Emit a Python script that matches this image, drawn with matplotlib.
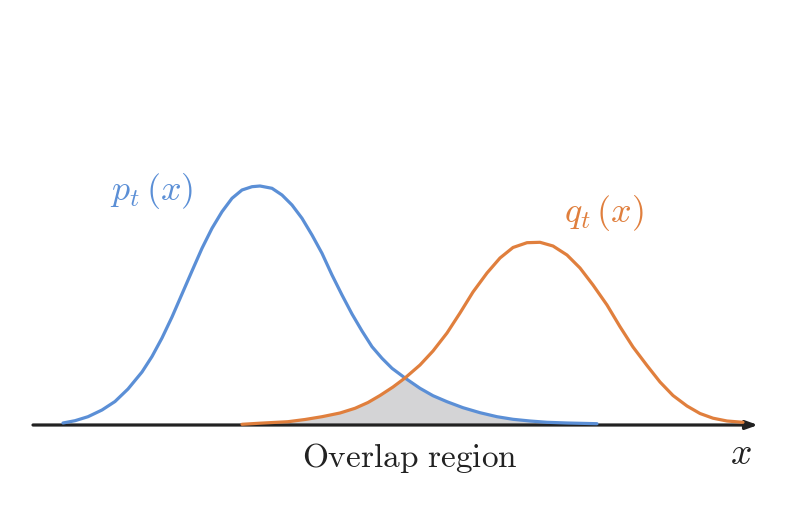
import numpy as np
import matplotlib
matplotlib.use('Agg')
import matplotlib.pyplot as plt

plt.rcParams['mathtext.fontset'] = 'cm'

# curva p_t(x): posição horizontal e altura acima do eixo
p_x = [63, 75, 88, 102, 115, 128, 142, 152, 162, 172, 182, 192, 202, 212, 222,
       232, 242, 252, 260, 272, 282, 292, 302, 312, 322, 332, 342, 352, 362, 372,
       382, 392, 405, 420, 433, 447, 463, 480, 497, 513, 530, 547, 567, 580, 597]
p_y = [2, 4.3, 8.3, 15, 23.5, 36, 53, 68.5, 87, 108, 131, 154, 176.7, 196.7, 213.3,
       226.7, 235, 238.3, 239, 236.7, 230, 220, 206.7, 190, 171.7, 150, 130, 111, 94, 78.3,
       66.7, 56.7, 47, 36.7, 29.3, 23.3, 17.3, 12.3, 8.3, 5.7, 4, 2.7, 2, 1.7, 1.3]

# curva q_t(x)
q_x = [242, 260, 288, 305, 322, 340, 355, 368, 380, 393, 405, 420, 433, 447, 460,
       473, 487, 500, 513, 527, 540, 553, 567, 580, 593, 607, 620, 633, 647, 660,
       673, 687, 700, 713, 727, 743]
q_y = [0.7, 1.8, 3.3, 5.5, 8.3, 12, 16.7, 22.5, 29.5, 38, 47, 60, 74, 92, 112,
       133, 152, 167, 177.5, 182.3, 182.7, 179, 170, 157, 140, 120, 98.3, 78, 59.5, 43,
       29.5, 19, 11.5, 6.8, 4, 2.7]

cross_x = 405  # ponto onde as curvas se cruzam

blue = '#5b8fd6'
orange = '#e07f3d'
dark = '#222222'

p_x, p_y = np.array(p_x), np.array(p_y)
q_x, q_y = np.array(q_x), np.array(q_y)

fig = plt.figure(figsize=(7.97, 5.32), dpi=100)
ax = fig.add_axes([0, 0, 1, 1])
ax.set_xlim(0, 797)
ax.set_ylim(-107, 425)
ax.axis('off')

# região de sobreposição: abaixo de q até o cruzamento, abaixo de p depois
ov_x = np.concatenate([q_x[q_x <= cross_x], p_x[p_x > cross_x]])
ov_y = np.concatenate([q_y[q_x <= cross_x], p_y[p_x > cross_x]])
ax.fill_between(ov_x, 0, ov_y, color='#d4d4d6', lw=0, zorder=1)

ax.plot(p_x, p_y, color=blue, lw=2.3, solid_capstyle='round', solid_joinstyle='round', zorder=3)
ax.plot(q_x, q_y, color=orange, lw=2.3, solid_capstyle='round', solid_joinstyle='round', zorder=3)

# eixo x com seta
ax.annotate('', xy=(758, 0), xytext=(33, 0),
            arrowprops=dict(arrowstyle='-|>,head_length=0.7,head_width=0.25',
                            color=dark, lw=2.3, shrinkA=0, shrinkB=0),
            zorder=2)

ax.text(152, 225, r'$p_t\,(x)$', color=blue, fontsize=26, ha='center', va='baseline')
ax.text(604, 203, r'$q_t\,(x)$', color=orange, fontsize=26, ha='center', va='baseline')
ax.text(410, -42, r'$\mathrm{Overlap\ region}$', color=dark, fontsize=24,
        ha='center', va='baseline')
ax.text(741, -39, r'$x$', color=dark, fontsize=27, ha='center', va='baseline')

fig.savefig('out.png', dpi=100)
